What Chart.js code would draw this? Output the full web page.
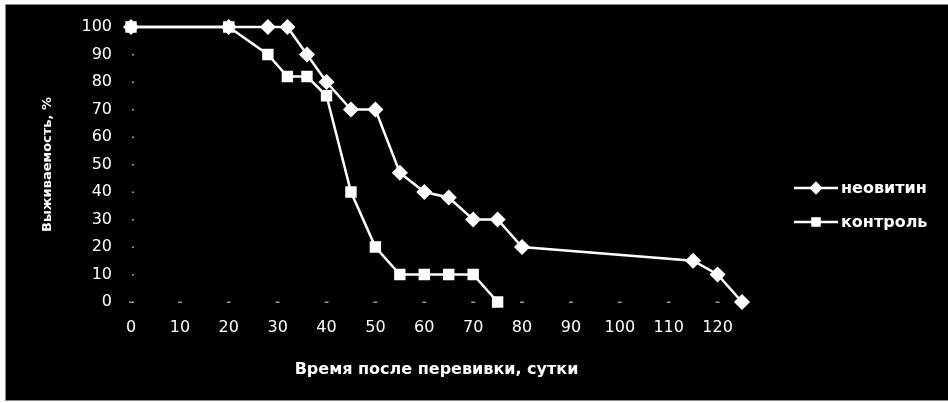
<!DOCTYPE html>
<html>
<head>
<meta charset="utf-8">
<script src="https://cdn.jsdelivr.net/npm/chart.js@4/dist/chart.umd.min.js"></script>
<style>
  html, body { margin: 0; padding: 0; background: #ffffff; }
  body { width: 948px; height: 403px; position: relative; overflow: hidden; }
  #frame {
    position: absolute; left: 5px; top: 4px; width: 943px; height: 397px;
    background: #000000; box-sizing: border-box;
    border-left: 1px solid #8a8a8a; border-top: 1px solid #8a8a8a; border-bottom: 1px solid #8a8a8a;
  }
  #wrap { position: absolute; left: 0; top: 0; width: 948px; height: 403px; }
</style>
</head>
<body>
<div id="frame"></div>
<div id="wrap"><canvas id="c" width="948" height="403"></canvas></div>
<script>
// Survival curves: days after transplantation vs. survival, %
const neovitinDays     = [0, 20, 28, 32, 36, 40, 45, 50, 55, 60, 65, 70, 75, 80, 115, 120, 125];
const neovitinSurvival = [100, 100, 100, 100, 90, 80, 70, 70, 47, 40, 38, 30, 30, 20, 15, 10, 0];

const controlDays     = [0, 20, 28, 32, 36, 40, 45, 50, 55, 60, 65, 70, 75];
const controlSurvival = [100, 100, 90, 82, 82, 75, 40, 20, 10, 10, 10, 10, 0];

const seriesNames = ['неовитин', 'контроль'];
const xTitle = 'Время после перевивки, сутки';
const yTitle = 'Выживаемость, %';

const toPoints = (xs, ys) => xs.map((x, i) => ({ x: x, y: ys[i] }));

const tickFont = { family: 'DejaVu Sans', size: 16 };

// Short faint marks along both axes at every tick position
const axisMarks = {
  id: 'axisMarks',
  beforeDatasetsDraw(chart) {
    const ctx = chart.ctx;
    const xs = chart.scales.x, ys = chart.scales.y;
    const y0 = ys.getPixelForValue(0), x0 = xs.getPixelForValue(0);
    ctx.save();
    ctx.fillStyle = '#9a9a9a';
    xs.ticks.forEach(t => {
      const px = xs.getPixelForValue(t.value);
      ctx.fillRect(px - 2, y0 - 0.5, 4, 1.5);
    });
    ys.ticks.forEach(t => {
      const py = ys.getPixelForValue(t.value);
      ctx.fillRect(x0 + 1, py - 0.5, 2, 1.5);
    });
    ctx.restore();
  }
};

// Legend drawn at the right: a line sample with the series marker, then the name
const sideLegend = {
  id: 'sideLegend',
  afterDraw(chart) {
    const ctx = chart.ctx;
    const rows = [188, 222];
    ctx.save();
    chart.data.datasets.forEach((ds, i) => {
      const y = rows[i];
      ctx.strokeStyle = '#ffffff';
      ctx.lineWidth = 2.5;
      ctx.beginPath();
      ctx.moveTo(794, y);
      ctx.lineTo(838, y);
      ctx.stroke();
      Chart.helpers.drawPoint(ctx, {
        pointStyle: ds.pointStyle, radius: 5, borderWidth: 1.5
      }, 816, y);
      ctx.fillStyle = '#ffffff';
      ctx.font = 'bold 16px "DejaVu Sans"';
      ctx.textBaseline = 'middle';
      ctx.textAlign = 'left';
      ctx.fillText(ds.label, 841, y + 1);
    });
    ctx.restore();
  }
};

new Chart(document.getElementById('c'), {
  type: 'scatter',
  data: {
    datasets: [
      {
        label: seriesNames[0],
        data: toPoints(neovitinDays, neovitinSurvival),
        showLine: true,
        borderColor: '#ffffff',
        backgroundColor: '#ffffff',
        borderWidth: 2.5,
        pointStyle: 'rectRot',
        pointRadius: 7,
        pointBorderWidth: 1.5,
        pointBorderColor: '#ffffff',
        pointBackgroundColor: '#ffffff',
        clip: false
      },
      {
        label: seriesNames[1],
        data: toPoints(controlDays, controlSurvival),
        showLine: true,
        borderColor: '#ffffff',
        backgroundColor: '#ffffff',
        borderWidth: 2.5,
        pointStyle: 'rect',
        pointRadius: 7,
        pointBorderWidth: 1.5,
        pointBorderColor: '#ffffff',
        pointBackgroundColor: '#ffffff',
        clip: false
      }
    ]
  },
  options: {
    responsive: false,
    animation: false,
    events: [],
    layout: { padding: { left: 0, top: 27, right: 206, bottom: 0 } },
    plugins: {
      legend: { display: false },
      tooltip: { enabled: false }
    },
    scales: {
      x: {
        type: 'linear',
        min: 0,
        max: 125,
        grid: { display: false },
        border: { display: false },
        ticks: { stepSize: 10, includeBounds: false, color: '#ffffff', font: tickFont, padding: 8 },
        title: { display: true, text: xTitle, color: '#ffffff',
                 font: { family: 'DejaVu Sans', size: 16, weight: 'bold' }, padding: { top: 0, bottom: 24 } },
        afterFit(scale) { scale.height = 101; }
      },
      y: {
        type: 'linear',
        min: 0,
        max: 100,
        grid: { display: false },
        border: { display: false },
        ticks: { stepSize: 10, color: '#ffffff', font: tickFont, padding: 11 },
        title: { display: true, text: yTitle, color: '#ffffff',
                 font: { family: 'DejaVu Sans', size: 13, weight: 'bold' }, padding: { top: 40, bottom: 0 } },
        afterFit(scale) { scale.width = 131; }
      }
    }
  },
  plugins: [axisMarks, sideLegend]
});
</script>
</body>
</html>
